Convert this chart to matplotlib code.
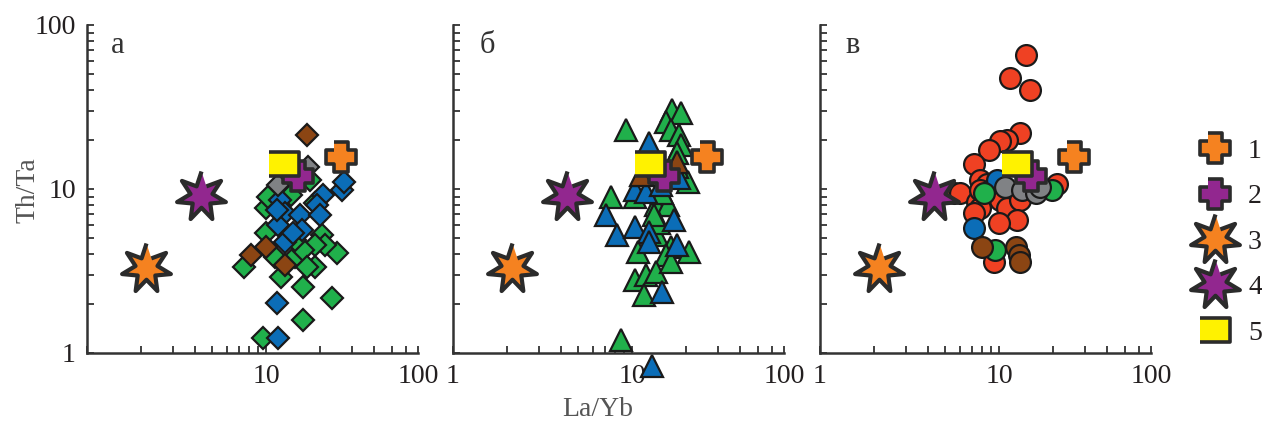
import matplotlib
matplotlib.use("Agg")
import matplotlib.pyplot as plt
from matplotlib.lines import Line2D
from matplotlib.ticker import FixedLocator, NullFormatter
import numpy as np

plt.rcParams['font.family'] = ['Liberation Serif', 'DejaVu Serif']

# цвета
ORANGE = '#F58220'
PURPLE = '#92278F'
YELLOW = '#FFF200'
GREEN = '#20B04B'
BLUE = '#0B6DB7'
BROWN = '#8B4513'
RED = '#EF4123'
GRAY = '#808285'
EDGE = '#2b2b2b'

# общие точки (1-5), La/Yb и Th/Ta
p1_x, p1_y = [26.2], [15.6]
p2_x, p2_y = [15.0], [12.0]
p3_x, p3_y = [2.13], [3.3]
p4_x, p4_y = [4.3], [9.1]
p5_x, p5_y = [12.5], [14.3]

# панель а (ромбы)
a_green_x = [9.58, 16.1, 23.2, 16.1, 18.7, 24.7, 12.1, 7.55, 11.1, 14.4, 10.0, 20.4,
             21.3, 18.7, 16.1, 10.0, 10.2, 13.8, 17.5, 18.7, 14.4, 16.8]
a_green_y = [1.23, 1.59, 2.15, 2.54, 3.36, 4.05, 2.92, 3.36, 3.87, 3.87, 5.37, 5.24,
             4.56, 4.56, 4.25, 7.63, 8.98, 9.2, 11.4, 8.18, 4.89, 3.36]
a_blue_x = [11.4, 11.6, 26.4, 27.0, 20.8, 11.9, 12.7, 15.4, 19.1, 19.9, 11.6, 15.7,
            12.7, 14.1, 11.4]
a_blue_y = [2.01, 1.23, 9.86, 11.1, 9.2, 8.57, 7.1, 6.94, 7.99, 6.94, 6.03, 5.62,
            4.77, 5.37, 7.45]
a_brown_x = [16.8, 10.0, 8.24, 12.7]
a_brown_y = [21.3, 4.45, 3.96, 3.44]
a_gray_x = [11.6, 17.1, 14.1]
a_gray_y = [10.6, 13.7, 11.6]

# панель б (треугольники)
b_green_x = [9.18, 8.6, 16.7, 18.6, 15.4, 16.4, 18.2, 18.6, 17.8, 7.57, 10.4, 13.5,
             15.7, 14.7, 20.3, 10.7, 13.8, 16.4, 20.7, 15.4, 10.4, 11.9, 13.5, 11.6,
             14.1, 13.2, 16.4, 17.8]
b_green_y = [22.9, 1.2, 30.3, 28.9, 25.7, 22.9, 21.3, 18.5, 16.5, 8.98, 8.98, 8.0,
             8.0, 9.4, 11.1, 4.15, 5.24, 4.45, 4.15, 3.96, 2.79, 2.99, 3.13, 2.26,
             6.18, 6.94, 3.6, 13.7]
b_blue_x = [12.4, 10.4, 11.9, 11.4, 7.1, 8.25, 10.4, 12.4, 12.4, 17.1, 17.8, 14.7,
            12.9, 18.2, 14.4]
b_blue_y = [19.0, 9.86, 9.6, 12.2, 6.94, 5.24, 5.89, 5.49, 4.77, 6.47, 4.56, 2.37,
            0.83, 11.7, 10.6]
b_brown_x = [17.8, 11.1]
b_brown_y = [14.7, 12.2]

# панель в (круги)
c_red_x = [14.0, 11.5, 14.9, 13.1, 11.0, 10.1, 8.71, 7.18, 21.0, 5.55, 6.05, 7.83,
           7.5, 7.83, 10.1, 11.0, 13.1, 12.6, 9.9, 7.18, 9.3, 8.5, 7.8]
c_red_y = [65.6, 47.3, 40.1, 21.8, 19.9, 19.5, 17.3, 14.3, 10.8, 9.4, 9.4, 11.4,
           8.37, 7.63, 8.57, 7.63, 8.57, 6.47, 6.18, 7.1, 3.6, 10.8, 9.86]
c_blue_x = [7.18, 9.7]
c_blue_y = [5.76, 11.4]
c_green_x = [8.17, 19.7, 9.5]
c_green_y = [9.4, 9.86, 4.25]
c_gray_x = [10.8, 13.4, 15.9, 16.9]
c_gray_y = [10.3, 9.86, 9.4, 10.3]
c_brown_x = [8.0, 12.3, 12.8, 13.1]
c_brown_y = [4.45, 4.45, 3.96, 3.6]

# формы маркеров
w = 0.43
CROSS = [(-w, 1), (w, 1), (w, w), (1, w), (1, -w), (w, -w), (w, -1), (-w, -1),
         (-w, -w), (-1, -w), (-1, w), (-w, w)]
ang = np.pi / 2 + np.arange(14) * np.pi / 7
rad = np.where(np.arange(14) % 2 == 0, 1.0, 0.45)
STAR = list(zip(rad * np.cos(ang), rad * np.sin(ang)))
RECT = [(-1, -0.8), (1, -0.8), (1, 0.8), (-1, 0.8)]

special = [
    dict(marker=STAR, ms=36, mfc=ORANGE, mec=EDGE, mew=3),
    dict(marker=STAR, ms=36, mfc=PURPLE, mec=EDGE, mew=3),
    dict(marker=CROSS, ms=22, mfc=ORANGE, mec=EDGE, mew=2.6),
    dict(marker=CROSS, ms=22, mfc=PURPLE, mec=EDGE, mew=2.6),
    dict(marker=RECT, ms=21, mfc=YELLOW, mec=EDGE, mew=2.6),
]
special_xy = [(p3_x, p3_y), (p4_x, p4_y), (p1_x, p1_y), (p2_x, p2_y), (p5_x, p5_y)]


def pts(ax, x, y, marker, color, ms):
    ax.plot(x, y, ls='none', marker=marker, ms=ms, mfc=color, mec='#1a1a1a',
            mew=1.6, clip_on=False)


fig = plt.figure(figsize=(12.62, 4.26), dpi=100)
W, H = 1262, 426
lefts = [87, 453, 820]
axes = [fig.add_axes([l / W, 1 - 353 / H, 331 / W, 328 / H]) for l in lefts]

for i, ax in enumerate(axes):
    ax.set_xscale('log')
    ax.set_yscale('log')
    ax.set_xlim(1, 70)
    ax.set_ylim(1, 100)
    for s in ['top', 'right']:
        ax.spines[s].set_visible(False)
    for s in ['left', 'bottom']:
        ax.spines[s].set_color('#333333')
        ax.spines[s].set_linewidth(1.8)
    xlab = ['1', '10', '100'] if i > 0 else ['', '10', '100']
    ax.set_xticks([1, 10, 70], xlab)
    ax.xaxis.set_minor_locator(FixedLocator([2, 3, 4, 5, 6, 7, 8, 9, 20, 30, 40, 50, 60]))
    ax.xaxis.set_minor_formatter(NullFormatter())
    ylab = ['1', '10', '100'] if i == 0 else ['', '', '']
    ax.set_yticks([1, 10, 100], ylab)
    ax.yaxis.set_minor_locator(FixedLocator([2, 3, 4, 5, 6, 7, 8, 9,
                                             20, 30, 40, 50, 60, 70, 80, 90]))
    ax.yaxis.set_minor_formatter(NullFormatter())
    ax.tick_params(which='both', direction='in', length=5, width=1.3,
                   color='#333333', labelsize=20, labelcolor='#231f20')
    ax.tick_params(axis='x', which='both', pad=8)
    ax.tick_params(axis='y', which='both', pad=8)

ax_a, ax_b, ax_c = axes

# панель а
pts(ax_a, a_green_x, a_green_y, 'D', GREEN, 11.5)
pts(ax_a, a_blue_x, a_blue_y, 'D', BLUE, 11.5)
pts(ax_a, a_brown_x, a_brown_y, 'D', BROWN, 11.5)
pts(ax_a, a_gray_x, a_gray_y, 'D', GRAY, 11.5)

# панель б
pts(ax_b, b_green_x, b_green_y, '^', GREEN, 16)
pts(ax_b, b_blue_x, b_blue_y, '^', BLUE, 16)
pts(ax_b, b_brown_x, b_brown_y, '^', BROWN, 16)

# панель в
pts(ax_c, c_red_x, c_red_y, 'o', RED, 15)
pts(ax_c, c_blue_x, c_blue_y, 'o', BLUE, 15)
pts(ax_c, c_green_x, c_green_y, 'o', GREEN, 15)
pts(ax_c, c_brown_x, c_brown_y, 'o', BROWN, 15)
pts(ax_c, c_gray_x, c_gray_y, 'o', GRAY, 15)

for ax in axes:
    for st, (sx, sy) in zip(special, special_xy):
        ax.plot(sx, sy, ls='none', clip_on=False, **st)

for ax, letter, lx in zip(axes, ['а', 'б', 'в'], [0.094, 0.103, 0.1]):
    ax.text(lx, 0.938, letter, transform=ax.transAxes, fontsize=22,
            color='#333333', ha='center', va='center')

fig.text(28 / W, 1 - 190 / H, 'Th/Ta', rotation=90, fontsize=20, color='#555555',
         ha='center', va='center')
fig.text(598 / W, 1 - 410 / H, 'La/Yb', fontsize=20, color='#555555',
         ha='center', va='center')

# легенда
order = [2, 3, 0, 1, 4]
handles = [Line2D([], [], ls='none', **special[k]) for k in order]
fig.legend(handles, ['1', '2', '3', '4', '5'], loc='center left',
           bbox_to_anchor=(1180 / W, 1 - 242 / H), frameon=False, fontsize=20,
           labelspacing=0.72, handletextpad=0.45, handlelength=1.5, borderpad=0,
           labelcolor='#231f20')

fig.savefig('out.png', dpi=100)
